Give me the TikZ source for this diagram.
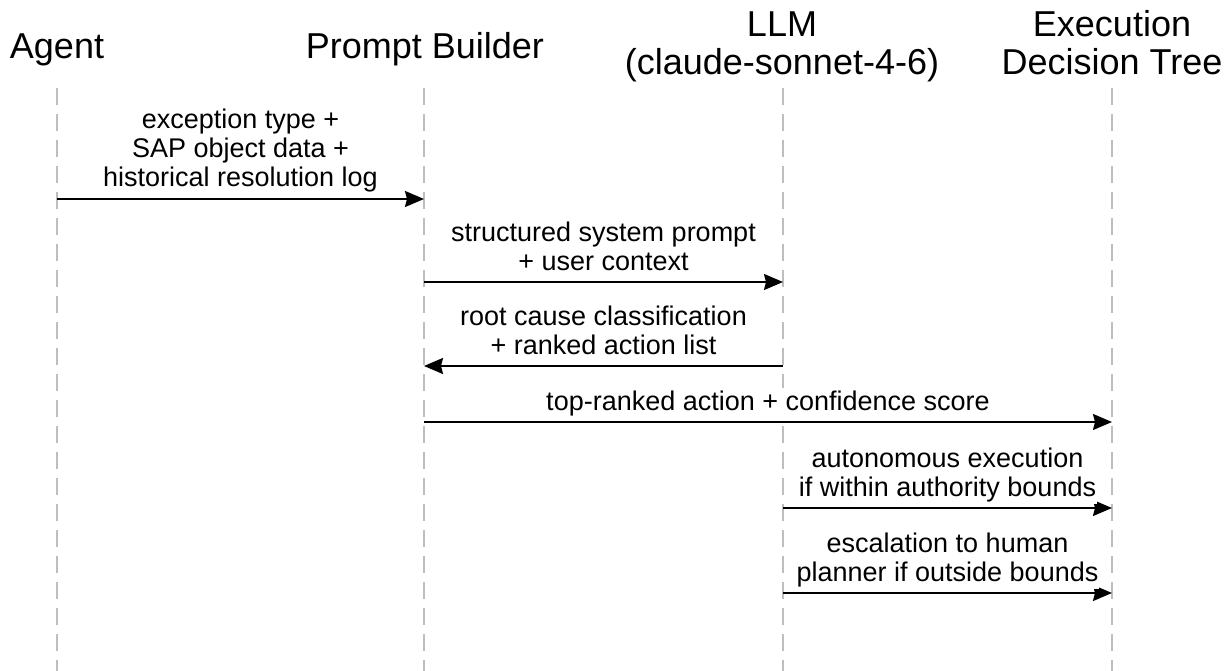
\documentclass[tikz,border=0pt]{standalone}
\usepackage{fontspec}
\setmainfont{Liberation Sans}
\definecolor{lifegray}{RGB}{190, 190, 190}
\usepackage{tikz}
\usetikzlibrary{arrows.meta}

\tikzset{
  actor/.style    = {
    anchor      = south,
    inner sep   = 0pt,
    text depth  = 8pt,
    align       = center,
    font        = \fontsize{36}{38}\selectfont
  },
  lifeline/.style = {
    draw        = lifegray,
    line width  = 1.8pt,
    dash pattern = on 17pt off 9pt
  },
  msg/.style      = {
    draw        = black,
    line width  = 2pt,
    -{Stealth[length=19pt, width=16pt, inset=2pt]}
  },
  msglabel/.style = {
    anchor      = south,
    fill        = white,
    inner xsep  = 1pt,
    inner ysep  = 2pt,
    yshift      = 3pt,
    text depth  = 6pt,
    align       = center,
    font        = \fontsize{27}{29}\selectfont
  }
}

\begin{document}
\begin{tikzpicture}[x=1pt, y=-1pt]
  \useasboundingbox (0,0) rectangle (1229,671);

  % participants
  \node[actor] (agent)   at (57,67)   {Agent};
  \node[actor] (builder) at (425,67)  {Prompt Builder};
  \node[actor] (llm)     at (782,83)  {LLM\\(claude-sonnet-4-6)};
  \node[actor] (tree)    at (1112,83) {Execution\\Decision Tree};

  % lifelines
  \coordinate (agentTop)   at (57,88);
  \coordinate (builderTop) at (424,88);
  \coordinate (llmTop)     at (783,88);
  \coordinate (treeTop)    at (1112,88);
  \foreach \who in {agent, builder, llm, tree}
    \draw[lifeline] (\who Top) -- (\who Top |- 0,671);

  % message rows
  \coordinate (m1) at (0,199);
  \coordinate (m2) at (0,282);
  \coordinate (m3) at (0,366);
  \coordinate (m4) at (0,422);
  \coordinate (m5) at (0,508);
  \coordinate (m6) at (0,593);

  \draw[msg] (agentTop |- m1) -- node[msglabel] (lbl1)
    {exception type +\\SAP object data +\\historical resolution log} (builderTop |- m1);
  \draw[msg] (builderTop |- m2) -- node[msglabel] (lbl2)
    {structured system prompt\\+ user context} (llmTop |- m2);
  \draw[msg] (llmTop |- m3) -- node[msglabel] (lbl3)
    {root cause classification\\+ ranked action list} (builderTop |- m3);
  \draw[msg] (builderTop |- m4) -- node[msglabel] (lbl4)
    {top-ranked action + confidence score} (treeTop |- m4);
  \draw[msg] (llmTop |- m5) -- node[msglabel] (lbl5)
    {autonomous execution\\if within authority bounds} (treeTop |- m5);
  \draw[msg] (llmTop |- m6) -- node[msglabel] (lbl6)
    {escalation to human\\planner if outside bounds} (treeTop |- m6);
\end{tikzpicture}
\end{document}
